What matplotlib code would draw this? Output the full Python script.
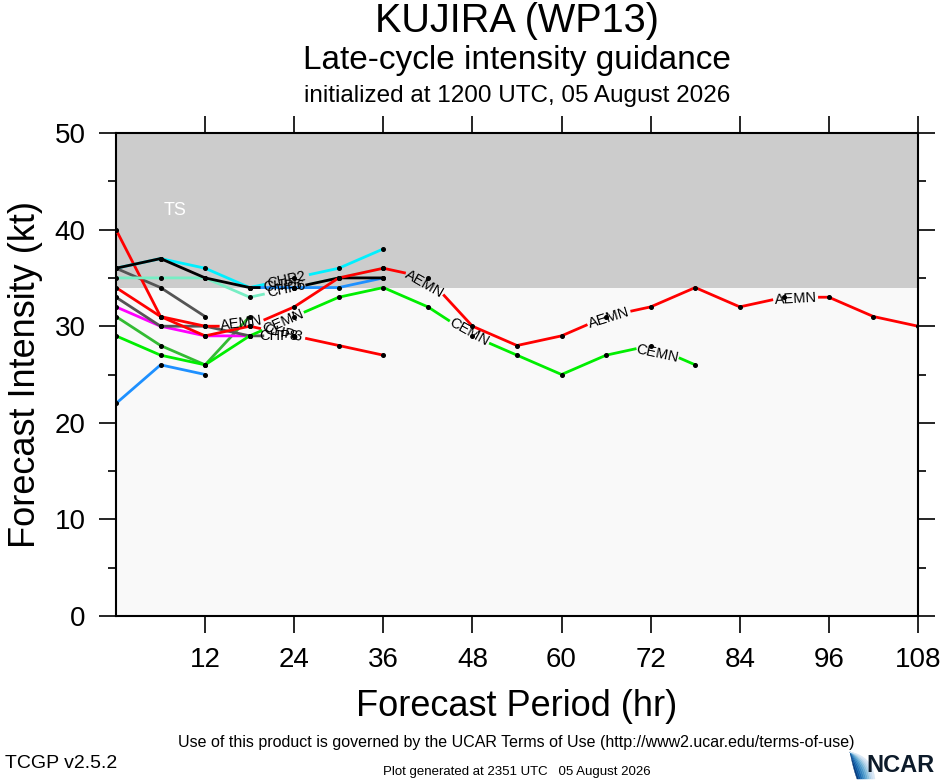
import numpy as np
import matplotlib
matplotlib.use('Agg')
import matplotlib.pyplot as plt
from matplotlib.patches import Polygon

plt.rcParams['font.family'] = ['Liberation Sans', 'DejaVu Sans']

# ---- data (kt), 6-hourly from the start hour ----
aemn = [34, 31, 30, 30, 32, 35, 36, 35, 30, 28, 29, 31, 32, 34, 32, 33, 33, 31, 30]
cemn = [29, 27, 26, 29, 31, 33, 34, 32, 29, 27, 25, 27, 28, 26]
chp2 = [36, 37, 36, 34, 35, 36, 38]
chp5 = [36, 37, 35, 34, 34, 35, 35]
chp6 = [35, 35, 35, 33, 34, 35, 36]
chp3 = [40, 31, 29, 30, 29, 28, 27]
chp8 = [33, 30, 30, 29, 29]
chp7 = [34, 34, 34, 35]          # starts at hour 18
grey_a = [36, 34, 31]
magenta_a = [32, 30, 29, 29]
green_a = [31, 28, 26, 31]
blue_a = [22, 26, 25]

# (values, start hour, colour, label, label hours)
models = [
    (blue_a, 0, '#1E90FF', None, []),
    (green_a, 0, '#33BB33', None, []),
    (magenta_a, 0, '#FF00FF', None, []),
    (grey_a, 0, '#555555', None, []),
    (chp8, 0, '#555555', 'CHP8', [23.0]),
    (chp3, 0, '#FF0000', 'CHP3', [22.5]),
    (chp6, 0, '#77EEC4', 'CHP6', [23.0]),
    (chp2, 0, '#00F0FF', 'CHP2', [23.0]),
    (chp7, 18, '#1E90FF', None, []),
    (chp5, 0, '#000000', 'CHP5', [22.5]),
    (cemn, 0, '#00EE00', 'CEMN', [22.5, 47.5, 73.0]),
    (aemn, 0, '#FF0000', 'AEMN', [17.0, 42.0, 66.3, 91.5]),
]

fig = plt.figure(figsize=(9.4, 7.8), dpi=100)
ax = fig.add_axes([116/940, 1-616/780, 802/940, 483/780])
ax.set_xlim(0, 108)
ax.set_ylim(0, 50)

ax.axhspan(34, 50, color='#CCCCCC', zorder=0, lw=0)
ax.axhspan(0, 34, color='#F9F9F9', zorder=0, lw=0)
ax.text(8, 42, 'TS', color='white', fontsize=13, ha='center', va='center')


def draw_model(vals, start, color, name, label_hours):
    t = start + 6*np.arange(len(vals), dtype=float)
    v = np.asarray(vals, float)
    P = ax.transData.transform(np.column_stack([t, v]))
    cum = np.concatenate([[0], np.cumsum(np.hypot(*np.diff(P, axis=0).T))])
    cuts = []
    for tc in label_hours:
        sc = np.interp(tc, t, cum)
        half = len(name)*4.9 + 3
        sa, sb = max(sc - half, 0), min(sc + half, cum[-1])
        pa = np.array([np.interp(sa, cum, P[:, 0]), np.interp(sa, cum, P[:, 1])])
        pb = np.array([np.interp(sb, cum, P[:, 0]), np.interp(sb, cum, P[:, 1])])
        ang = np.degrees(np.arctan2(pb[1]-pa[1], pb[0]-pa[0]))
        cx, cy = ax.transData.inverted().transform((pa + pb)/2)
        cuts.append((np.interp(sa, cum, t), np.interp(sb, cum, t)))
        ax.text(cx, cy, name, fontsize=10.5, ha='center', va='center',
                rotation=ang, rotation_mode='anchor', zorder=6)
    # line pieces between the label gaps
    edges = [t[0]]
    for a, b in cuts:
        edges += [a, b]
    edges.append(t[-1])
    for a, b in zip(edges[0::2], edges[1::2]):
        tt = np.concatenate([[a], t[(t > a) & (t < b)], [b]])
        ax.plot(tt, np.interp(tt, t, v), color=color, lw=2, zorder=3,
                solid_capstyle='butt')
    ax.plot(t, v, 'o', color='black', ms=2.6, zorder=5)


for m in models:
    draw_model(*m)

ax.set_xticks(range(12, 109, 12))
ax.set_yticks(range(0, 51, 10))
ax.set_yticks(range(5, 50, 10), minor=True)
ax.tick_params(axis='x', which='major', direction='out', length=12, width=1.2,
               top=True, labelsize=20, pad=10)
ax.tick_params(axis='y', which='major', direction='out', length=12, width=1.2,
               right=True, labelsize=20, pad=10)
ax.tick_params(axis='y', which='minor', direction='out', length=6, width=1.2, right=True)
for s in ax.spines.values():
    s.set_linewidth(1.5)

ax.set_xlabel('Forecast Period (hr)', fontsize=26, labelpad=12)
ax.set_ylabel('Forecast Intensity (kt)', fontsize=26, labelpad=8)

fig.text(517/940, 1-21/780, 'KUJIRA (WP13)', fontsize=28.5, ha='center', va='center')
fig.text(517/940, 1-61/780, 'Late-cycle intensity guidance', fontsize=24, ha='center', va='center')
fig.text(517/940, 1-96/780, 'initialized at 1200 UTC, 05 August 2026', fontsize=17.5,
         ha='center', va='center')

fig.text(516/940, 1-742/780,
         'Use of this product is governed by the UCAR Terms of Use (http://www2.ucar.edu/terms-of-use)',
         fontsize=11.5, ha='center', va='center')
fig.text(5/940, 1-764/780, 'TCGP v2.5.2', fontsize=14, ha='left', va='center')
fig.text(517/940, 1-772/780, 'Plot generated at 2351 UTC   05 August 2026', fontsize=9.5,
         ha='center', va='center')

# rough NCAR logo: blue swoosh + text
u = np.linspace(0, 1, 25)[:, None]
p0 = np.array([850.0, 752.0])
n = 10
curves = []
for k in range(n + 1):
    f = k/n
    p1 = np.array([853 + 19*f, 768 - 12*f])
    p2 = np.array([857 + 18*f, 779.0])
    curves.append((1-u)**2*p0 + 2*(1-u)*u*p1 + u**2*p2)
cmap = plt.get_cmap('Blues')
for k in range(n):
    pts = np.vstack([curves[k], curves[k+1][::-1]])
    col = cmap(0.95 - 0.8*k/(n-1))
    fig.patches.append(Polygon(np.column_stack([pts[:, 0]/940, 1-pts[:, 1]/780]),
                               closed=True, transform=fig.transFigure, color=col, lw=0.3))
fig.text(934/940, 1-766/780, 'NCAR', fontsize=17, ha='right', va='center', weight='bold',
         color='#0D1B2A', family=['Liberation Sans Narrow', 'Liberation Sans'])

fig.savefig('out.png', dpi=100)
